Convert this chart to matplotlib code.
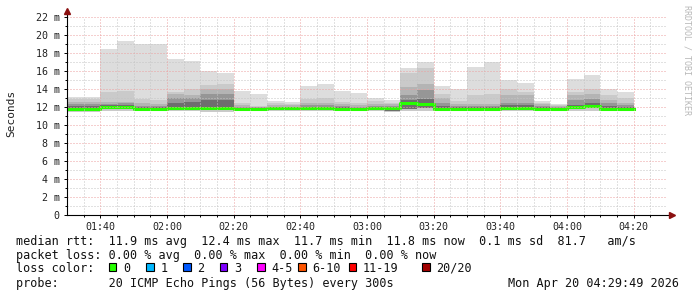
import numpy as np
import matplotlib
matplotlib.use('Agg')
import matplotlib.pyplot as plt
from matplotlib.patches import Rectangle

W, H = 697, 297
MONO = 'DejaVu Sans Mono'

# 5 minute steps, minutes after 01:30
step = 5
bar_start = np.arange(34) * step

# median rtt per step (ms)
median = [11.75, 11.75, 11.98, 11.98, 11.74, 11.74, 11.89, 11.94, 11.94, 11.94,
          11.78, 11.78, 11.94, 11.94, 11.94, 11.94, 11.80, 11.80, 11.85, 11.90,
          12.40, 12.37, 11.82, 11.78, 11.78, 11.78, 11.85, 11.85, 11.80, 11.80,
          12.04, 12.13, 11.80, 11.80]

# smoke: upper edges of the nested ping bands (outer -> inner), ms
smoke_hi1 = [13.10, 13.07, 18.44, 19.33, 19.03, 19.03, 17.33, 17.10, 16.00, 15.80,
             13.80, 13.44, 12.70, 12.52, 14.33, 14.60, 13.80, 13.60, 12.95, 12.80,
             16.35, 16.95, 14.33, 14.00, 16.44, 16.95, 15.02, 14.70, 12.70, 12.33,
             15.10, 15.58, 14.00, 13.67]
smoke_hi2 = [12.85, 12.85, 13.70, 13.78, 12.90, 12.80, 13.70, 13.96, 14.44, 14.55,
             12.40, 12.10, 12.40, 12.35, 12.85, 12.96, 12.60, 12.40, 12.70, 12.50,
             15.78, 16.30, 13.40, 12.70, 13.33, 13.45, 13.96, 13.70, 12.50, 12.20,
             13.70, 13.96, 13.33, 12.96]
smoke_hi3 = [12.60, 12.60, 12.60, 12.60, 12.40, 12.30, 13.40, 13.33, 13.96, 13.96,
             12.20, 12.00, 12.20, 12.20, 12.40, 12.40, 12.30, 12.20, 12.35, 12.30,
             14.26, 14.55, 12.96, 12.35, 12.35, 12.30, 13.33, 13.33, 12.30, 12.10,
             13.33, 13.50, 12.80, 12.40]
smoke_hi4 = [12.33, 12.33, 12.33, 12.40, 12.10, 12.10, 12.96, 12.96, 13.40, 13.50,
             12.05, 11.95, 12.05, 12.05, 12.20, 12.20, 12.10, 12.05, 12.15, 12.15,
             13.33, 13.90, 12.40, 12.10, 12.10, 12.10, 12.40, 12.50, 12.10, 12.00,
             12.80, 12.90, 12.40, 12.20]
smoke_hi5 = [12.10, 12.10, 12.20, 12.20, 11.95, 11.95, 12.40, 12.60, 12.80, 12.80,
             11.90, 11.85, 12.00, 12.00, 12.05, 12.05, 11.95, 11.90, 12.00, 12.05,
             12.80, 12.85, 12.10, 11.95, 11.95, 11.95, 12.20, 12.20, 11.95, 11.90,
             12.20, 12.40, 12.10, 12.00]
# lower edges
smoke_lo1 = [11.50, 11.50, 11.55, 11.55, 11.55, 11.55, 11.60, 11.55, 11.50, 11.50,
             11.55, 11.55, 11.60, 11.60, 11.60, 11.60, 11.60, 11.60, 11.60, 11.50,
             11.55, 11.60, 11.60, 11.60, 11.60, 11.60, 11.60, 11.55, 11.60, 11.60,
             11.60, 11.60, 11.60, 11.60]
smoke_lo2 = [11.65, 11.65, 11.75, 11.75, 11.65, 11.65, 11.75, 11.70, 11.65, 11.65,
             11.70, 11.70, 11.75, 11.75, 11.75, 11.75, 11.70, 11.70, 11.70, 11.60,
             11.80, 11.85, 11.70, 11.70, 11.70, 11.70, 11.70, 11.65, 11.70, 11.70,
             11.80, 11.85, 11.70, 11.70]

band_colors = ['#dddddd', '#cacaca', '#b4b4b4', '#969696', '#6e6e6e']

tick_pos = [10, 30, 50, 70, 90, 110, 130, 150, 170]
tick_labels = ['01:40', '02:00', '02:20', '02:40', '03:00', '03:20', '03:40', '04:00', '04:20']
y_ticks = list(range(0, 23, 2))
y_labels = ['0'] + ['%d m' % v for v in y_ticks[1:]]

loss_colors = ['#26ff00', '#00b8ff', '#0059ff', '#7e00ff', '#ff00ff', '#ff5500', '#ff0000', '#a10000']
loss_labels = ['0', '1', '2', '3', '4-5', '6-10', '11-19', '20/20']
loss_box_x = [108.5, 146, 183, 219.5, 257, 298, 348.5, 422]

fig = plt.figure(figsize=(W / 100, H / 100), dpi=100)
ax = fig.add_axes([67 / W, 1 - 215 / H, 600 / W, 198 / H])


def ext(v):
    return np.append(v, v[-1])


edges = np.append(bar_start, bar_start[-1] + step)
his = [smoke_hi1, smoke_hi2, smoke_hi3, smoke_hi4, smoke_hi5]
los = [smoke_lo1, smoke_lo1, smoke_lo2, smoke_lo2, smoke_lo2]
for hi, lo, c in zip(his, los, band_colors):
    ax.fill_between(edges, ext(lo), ext(hi), step='post', color=c, lw=0, zorder=1)

ax.step(edges, ext(median), where='post', color='#26ff00', lw=2.2, zorder=2)

ax.set_xlim(0, 180)
ax.set_ylim(0, 22)

# grid drawn over data like rrdtool
ax.set_xticks(tick_pos)
ax.set_xticklabels(tick_labels, family=MONO, fontsize=7.2)
ax.set_xticks(np.arange(5, 180, 5), minor=True)
ax.set_yticks(y_ticks)
ax.set_yticklabels(y_labels, family=MONO, fontsize=7.2)
ax.set_yticks(np.arange(1, 22, 2), minor=True)
for v in np.arange(5, 180, 5):
    if v % 20 == 10:
        continue
    ax.axvline(v, color='#c4c4c4', lw=0.72, ls=(0, (1, 2)), zorder=3)
for v in np.arange(1, 23, 1):
    if v % 2 == 0:
        continue
    ax.axhline(v, color='#c4c4c4', lw=0.72, ls=(0, (1, 2)), zorder=3)
for v in tick_pos:
    ax.axvline(v, color='#eca0a0', lw=0.72, ls=(0, (1, 2)), zorder=3)
for v in y_ticks[1:]:
    ax.axhline(v, color='#eca0a0', lw=0.72, ls=(0, (1, 2)), zorder=3)

ax.tick_params(which='major', length=2.2, width=0.7, pad=3.2, colors='black', labelcolor='#222222')
ax.tick_params(which='minor', length=1.4, width=0.7, colors='black')
for s in ['top', 'right', 'left', 'bottom']:
    ax.spines[s].set_visible(False)

# axes with arrows
ax.plot([0, 0], [0, 1 + 6 / 198], transform=ax.transAxes, color='black', lw=0.8, clip_on=False, zorder=4)
ax.plot([0, 1 + 3 / 600], [0, 0], transform=ax.transAxes, color='black', lw=0.8, clip_on=False, zorder=4)
ax.plot([0], [1 + 6 / 198], transform=ax.transAxes, marker='^', ms=4, color='#8b1010', clip_on=False, zorder=5)
ax.plot([1 + 5 / 600], [0], transform=ax.transAxes, marker='>', ms=4, color='#8b1010', clip_on=False, zorder=5)

fig.text(11 / W, 1 - 113 / H, 'Seconds', rotation=90, ha='center', va='center',
         family=MONO, fontsize=8, color='#222222')
fig.text(687 / W, 1 - 5 / H, 'RRDTOOL / TOBI OETIKER', rotation=-90, ha='center', va='top',
         family=MONO, fontsize=6.0, color='#b8b8b8')


def ftxt(x, y, s, **kw):
    fig.text(x / W, 1 - y / H, s, va='center', family=MONO, fontsize=8.5, color='#111111', **kw)


ftxt(16, 241, 'median rtt:  11.9 ms avg  12.4 ms max  11.7 ms min  11.8 ms now  0.1 ms sd  81.7   am/s')
ftxt(16, 255, 'packet loss: 0.00 % avg  0.00 % max  0.00 % min  0.00 % now')
ftxt(16, 268, 'loss color:')
for bx, c, lab in zip(loss_box_x, loss_colors, loss_labels):
    fig.patches.append(Rectangle((bx / W, 1 - 270.5 / H), 7.5 / W, 8 / H, transform=fig.transFigure,
                                 facecolor=c, edgecolor='black', lw=0.8))
    ftxt(bx + 14.5, 268, lab)
ftxt(16, 283, 'probe:       20 ICMP Echo Pings (56 Bytes) every 300s')
ftxt(679, 283, 'Mon Apr 20 04:29:49 2026', ha='right')

fig.savefig('out.png', dpi=100)
